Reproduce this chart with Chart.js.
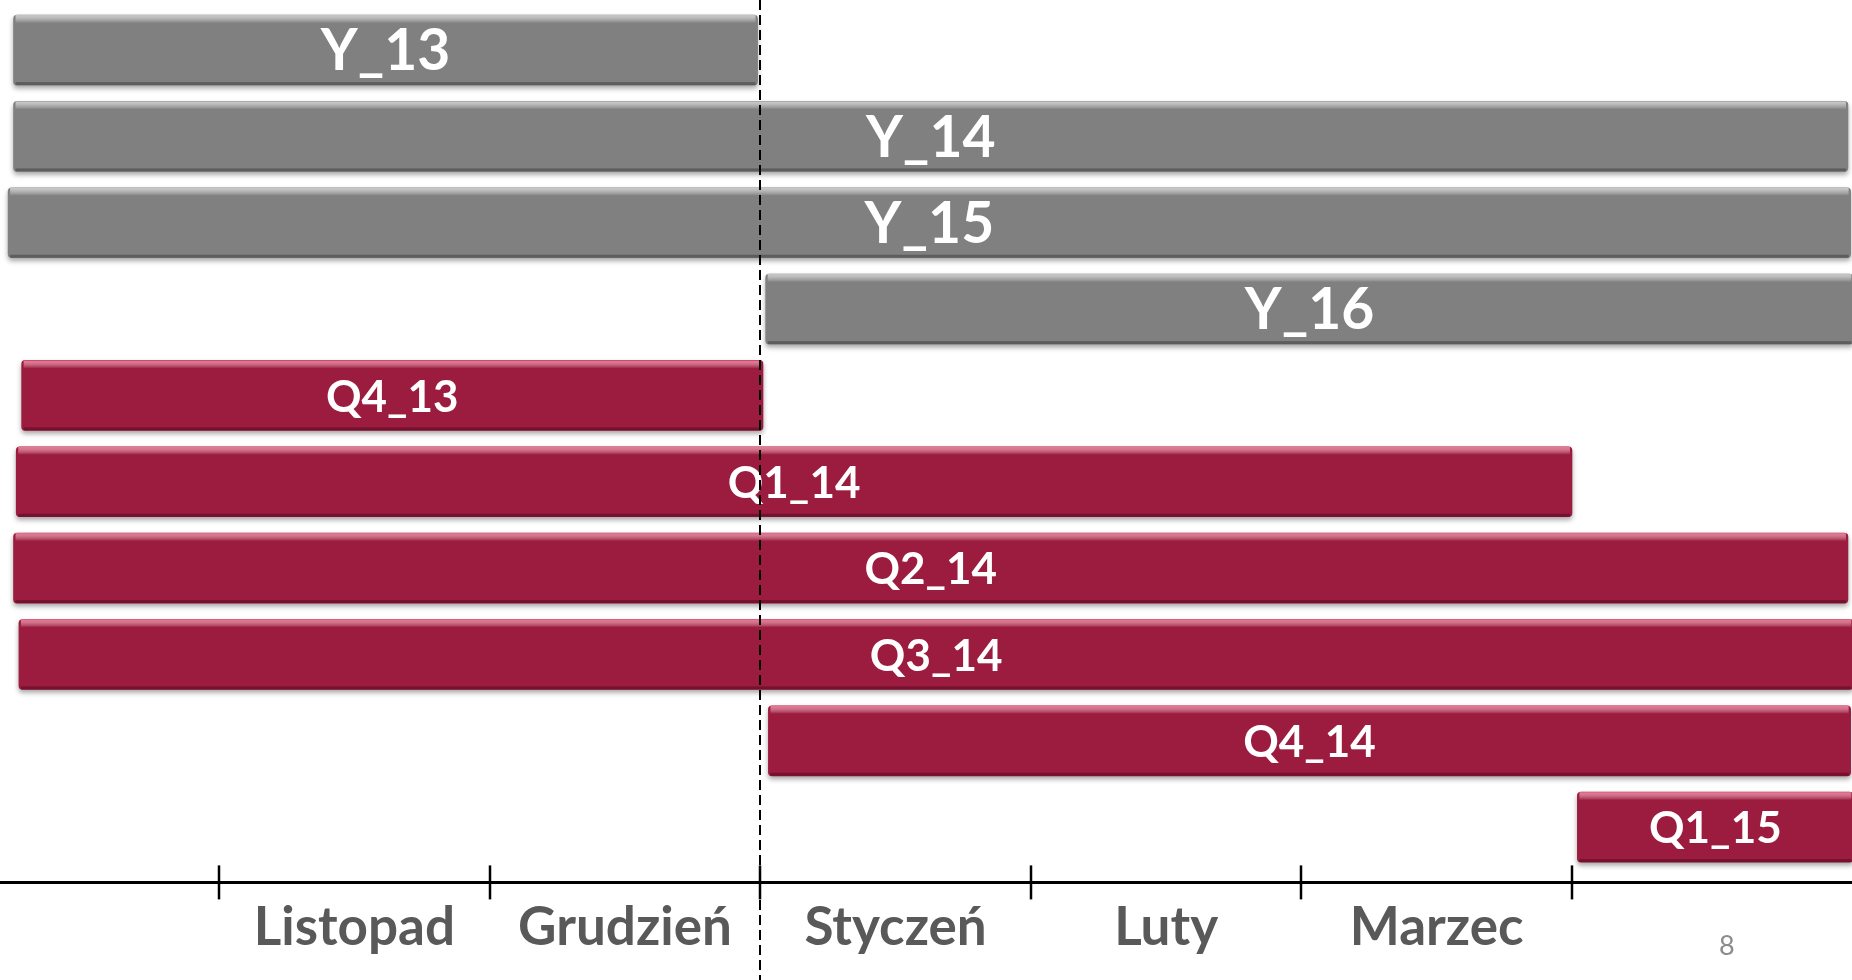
<!DOCTYPE html>
<html>
<head>
<meta charset="utf-8">
<script src="https://cdn.jsdelivr.net/npm/chart.js@4"></script>
<style>
  body { margin: 0; background: #fff; }
  #wrap { position: relative; width: 1852px; height: 980px; }
  #pageNo { position: absolute; left: 1719px; top: 931px; font: 27px Lato, sans-serif; line-height: 1; color: #8c8c8c; }
</style>
</head>
<body>
<div id="wrap">
  <canvas id="myChart"></canvas>
  <div id="pageNo">8</div>
</div>
<script>
// rows top to bottom, spans in months (1 = start of Listopad)
const rows = ['Y_13', 'Y_14', 'Y_15', 'Y_16', 'Q4_13', 'Q1_14', 'Q2_14', 'Q3_14', 'Q4_14', 'Q1_15'];
const starts = [0.24, 0.24, 0.22, 3.02, 0.27, 0.25, 0.24, 0.26, 3.03, 6.02];
const ends = [2.99, 7.02, 7.03, 7.04, 3.01, 6.0, 7.02, 7.04, 7.03, 7.04];

const months = ['Listopad', 'Grudzień', 'Styczeń', 'Luty', 'Marzec'];
const monthEdges = [1, 2, 3, 4, 5, 6];
const splitMonth = 3; // dashed line, start of Styczeń

const GRAY = '#808080';
const RED = '#9c1c3f';

var ctx = document.getElementById('myChart').getContext('2d');

const barData = rows.map((name, i) => ({ x: [starts[i], ends[i]], y: i }));

const barStyle = {
    id: 'barStyle',
    beforeDatasetsDraw(chart) {
        const c = chart.ctx;
        c.save();
        c.shadowColor = 'rgba(0,0,0,0.35)';
        c.shadowBlur = 5;
        c.shadowOffsetY = 3;
    },
    afterDatasetsDraw(chart) {
        const c = chart.ctx;
        c.restore();
        const meta = chart.getDatasetMeta(0);
        meta.data.forEach((bar, i) => {
            const p = bar.getProps(['x', 'y', 'base', 'height'], true);
            const left = Math.min(p.x, p.base), right = Math.max(p.x, p.base);
            const top = p.y - p.height / 2, bottom = p.y + p.height / 2;
            const isYear = rows[i].startsWith('Y');
            c.save();
            // bevel: light top edge, dark bottom edge
            const g = c.createLinearGradient(0, top, 0, top + 8);
            g.addColorStop(0, isYear ? 'rgba(210,210,210,0.9)' : 'rgba(240,120,150,0.95)');
            g.addColorStop(1, 'rgba(255,255,255,0)');
            c.fillStyle = g;
            c.fillRect(left + 2, top, right - left - 4, 8);
            c.fillStyle = isYear ? 'rgba(70,70,70,0.6)' : 'rgba(90,10,35,0.6)';
            c.fillRect(left + 2, bottom - 3, right - left - 4, 3);
            // label
            c.fillStyle = '#ffffff';
            c.font = isYear ? 'bold 57px Lato' : 'bold 44px Lato';
            c.textAlign = 'center';
            c.textBaseline = 'middle';
            c.fillText(rows[i], (left + right) / 2, p.y + 2);
            c.restore();
        });
    },
    afterDraw(chart) {
        const c = chart.ctx;
        const x = chart.scales.x;
        const area = chart.chartArea;
        c.save();
        // tick marks crossing the axis
        c.strokeStyle = '#000';
        c.lineWidth = 2.5;
        monthEdges.forEach(v => {
            const px = Math.round(x.getPixelForValue(v));
            c.beginPath();
            c.moveTo(px, area.bottom - 17);
            c.lineTo(px, area.bottom + 17);
            c.stroke();
        });
        // dashed divider
        const dx = Math.round(x.getPixelForValue(splitMonth));
        c.lineWidth = 2;
        c.setLineDash([10, 5]);
        c.beginPath();
        c.moveTo(dx, 0);
        c.lineTo(dx, chart.height);
        c.stroke();
        c.restore();
    }
};

var myChart = new Chart(ctx, {
    type: 'bar',
    data: {
        datasets: [
            {
                data: barData,
                backgroundColor: (context) => rows[context.dataIndex].startsWith('Y') ? GRAY : RED,
                barThickness: 70,
                borderRadius: 4,
                borderSkipped: false
            }
        ]
    },
    options: {
        indexAxis: 'y',
        responsive: true,
        maintainAspectRatio: false,
        animation: false,
        layout: { padding: { top: 0, left: 0, right: 0, bottom: 14 } },
        scales: {
            x: {
                type: 'linear',
                min: 0.19,
                max: 7.035,
                afterBuildTicks: (scale) => {
                    const t = [];
                    monthEdges.forEach(v => t.push({ value: v }));
                    months.forEach((m, i) => t.push({ value: monthEdges[i] + 0.5 }));
                    t.sort((a, b) => a.value - b.value);
                    scale.ticks = t;
                },
                ticks: {
                    autoSkip: false,
                    maxRotation: 0,
                    minRotation: 0,
                    padding: 6,
                    color: '#595959',
                    font: { family: 'Lato', size: 53, weight: 'bold' },
                    callback: function (val) {
                        const i = monthEdges.findIndex(e => Math.abs(e + 0.5 - val) < 1e-6);
                        return i >= 0 ? months[i] : '';
                    }
                },
                grid: { display: false },
                border: { display: true, color: '#000', width: 3 }
            },
            y: {
                type: 'linear',
                reverse: true,
                offset: false,
                min: -0.58,
                max: 9.64,
                display: false
            }
        },
        plugins: {
            legend: { display: false },
            tooltip: { enabled: false }
        }
    },
    plugins: [barStyle]
});
</script>
</body>
</html>
